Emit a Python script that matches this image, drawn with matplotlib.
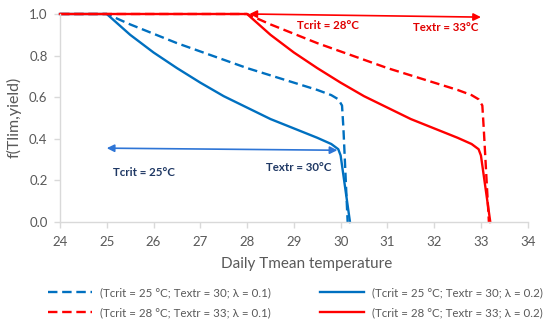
import matplotlib
matplotlib.use("Agg")
import matplotlib.pyplot as plt

plt.rcParams['font.family'] = ['Lato', 'DejaVu Sans']

# Data
t_blue_01 = [24, 25, 25.5, 26, 26.5, 27, 27.5, 28, 28.5, 29, 29.5, 29.8, 29.95, 30.03, 30.06, 30.15]
f_blue_01 = [1.0, 1.0, 0.95, 0.905, 0.86, 0.82, 0.78, 0.74, 0.705, 0.67, 0.635, 0.61, 0.59, 0.56, 0.45, 0.0]
t_blue_02 = [24, 25, 25.5, 26, 26.5, 27, 27.5, 28, 28.5, 29, 29.5, 29.8, 29.95, 30.0, 30.2]
f_blue_02 = [1.0, 1.0, 0.90, 0.815, 0.74, 0.67, 0.605, 0.55, 0.495, 0.45, 0.405, 0.375, 0.35, 0.32, 0.0]
t_red_01 = [24, 28, 28.5, 29, 29.5, 30, 30.5, 31, 31.5, 32, 32.5, 32.8, 32.95, 33.03, 33.06, 33.17]
f_red_01 = [1.0, 1.0, 0.95, 0.905, 0.86, 0.82, 0.78, 0.74, 0.705, 0.67, 0.635, 0.61, 0.59, 0.56, 0.45, 0.0]
t_red_02 = [24, 28, 28.5, 29, 29.5, 30, 30.5, 31, 31.5, 32, 32.5, 32.8, 32.95, 33.0, 33.2]
f_red_02 = [1.0, 1.0, 0.90, 0.815, 0.74, 0.67, 0.605, 0.55, 0.495, 0.45, 0.405, 0.375, 0.35, 0.32, 0.0]

labels = ["(Tcrit = 25 °C; Textr = 30; λ = 0.1)",
          "(Tcrit = 25 °C; Textr = 30; λ = 0.2)",
          "(Tcrit = 28 °C; Textr = 33; λ = 0.1)",
          "(Tcrit = 28 °C; Textr = 33; λ = 0.2)"]
x_ticks = [24, 25, 26, 27, 28, 29, 30, 31, 32, 33, 34]
y_ticks = [0.0, 0.2, 0.4, 0.6, 0.8, 1.0]

BLUE = '#0070C0'
RED = '#FF0000'
GRAY = '#595959'
NAVY = '#1F3864'

W, H = 550, 328
fig = plt.figure(figsize=(5.5, 3.28), dpi=100)
ax = fig.add_axes([60/W, 1-222/H, (527.7-60)/W, (222-14)/H])

dash = (0, (4, 2))
lw = 1.7
l1, = ax.plot(t_blue_01, f_blue_01, color=BLUE, lw=lw, linestyle=dash, clip_on=False, label=labels[0])
l2, = ax.plot(t_blue_02, f_blue_02, color=BLUE, lw=lw, clip_on=False, label=labels[1])
l3, = ax.plot(t_red_01, f_red_01, color=RED, lw=lw, linestyle=dash, clip_on=False, label=labels[2])
l4, = ax.plot(t_red_02, f_red_02, color=RED, lw=lw, clip_on=False, label=labels[3])

ax.set_xlim(24, 34)
ax.set_ylim(0, 1.0)
ax.set_xticks(x_ticks)
ax.set_yticks(y_ticks)
ax.set_yticklabels([f"{v:.1f}" for v in y_ticks])
for s in ['top', 'right']:
    ax.spines[s].set_visible(False)
for s in ['left', 'bottom']:
    ax.spines[s].set_color('#D9D9D9')
    ax.spines[s].set_linewidth(1.0)
ax.tick_params(axis='both', colors='#D9D9D9', labelcolor=GRAY, labelsize=9.5, length=4, width=1.0)
ax.tick_params(axis='x', pad=6)
ax.tick_params(axis='y', pad=5)

fig.text(307/W, 1-264/H, "Daily Tmean temperature", color=GRAY, fontsize=11, ha='center', va='center')
fig.text(14/W, 1-117/H, "f(Tlim,yield)", color=GRAY, fontsize=11.5, ha='center', va='center', rotation=90)

# Arrows
ax.annotate('', xy=(28.05, 1.0), xytext=(33.0, 0.985), annotation_clip=False,
            arrowprops=dict(arrowstyle='<|-|>', color=RED, lw=1.2, mutation_scale=11, shrinkA=0, shrinkB=0))
ax.annotate('', xy=(25.0, 0.355), xytext=(29.93, 0.345),
            arrowprops=dict(arrowstyle='<|-|>', color='#2E75D6', lw=1.2, mutation_scale=11, shrinkA=0, shrinkB=0))

ax.text(29.72, 0.947, "Tcrit = 28°C", color='#E00000', fontsize=8.3, fontweight='bold', ha='center', va='center')
ax.text(32.24, 0.933, "Textr = 33°C", color='#E00000', fontsize=8.3, fontweight='bold', ha='center', va='center')
ax.text(25.79, 0.24, "Tcrit = 25°C", color=NAVY, fontsize=8.3, fontweight='bold', ha='center', va='center')
ax.text(29.1, 0.264, "Textr = 30°C", color=NAVY, fontsize=8.3, fontweight='bold', ha='center', va='center')

leg_kw = dict(loc='upper left', frameon=False, fontsize=8.3, handlelength=3.8, handletextpad=0.7,
              labelspacing=0.8, labelcolor=GRAY, borderpad=0, borderaxespad=0)
leg1 = fig.legend(handles=[l1, l3], bbox_to_anchor=(48/W, 1-287/H), **leg_kw)
leg2 = fig.legend(handles=[l2, l4], bbox_to_anchor=(320/W, 1-287/H), **leg_kw)

fig.savefig('out.png', dpi=100)
